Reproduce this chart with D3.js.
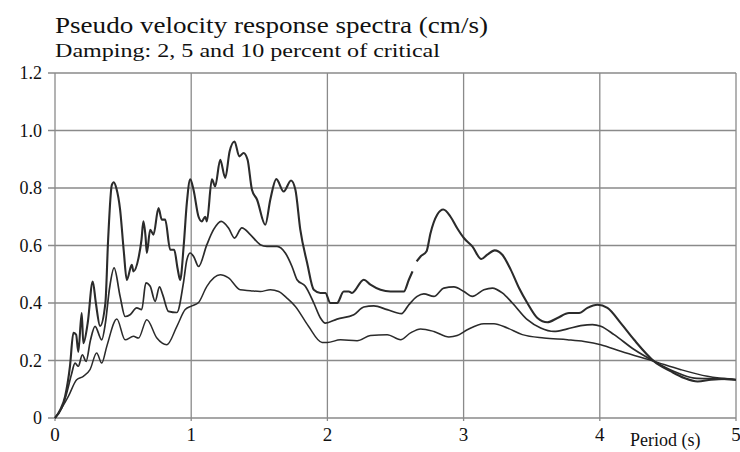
<!DOCTYPE html>
<html>
<head>
<meta charset="utf-8">
<script src="https://cdn.jsdelivr.net/npm/d3@7"></script>
<style>
  body { margin: 0; background: #fff; }
  svg { display: block; font-family: "Liberation Serif", "Times New Roman", serif; }
</style>
</head>
<body>
<svg id="chart"></svg>
<script>
// Chart data: [period (s), pseudo velocity (cm/s)] per damping ratio
var xTicks = [0, 1, 2, 3, 4, 5];
var yTicks = [0, 0.2, 0.4, 0.6, 0.8, 1.0, 1.2];
var yTickLabels = ['0', '0.2', '0.4', '0.6', '0.8', '1.0', '1.2'];

var damp2 = [[0,0],[0.04,0.03],[0.074,0.075],[0.11,0.18],[0.135,0.296],[0.155,0.29],[0.171,0.23],[0.196,0.365],
  [0.208,0.26],[0.24,0.33],[0.277,0.475],[0.30,0.40],[0.331,0.32],[0.37,0.40],[0.39,0.62],[0.417,0.81],[0.432,0.82],
  [0.45,0.80],[0.478,0.725],[0.505,0.58],[0.527,0.48],[0.564,0.533],[0.576,0.51],[0.613,0.556],[0.635,0.62],
  [0.649,0.684],[0.665,0.63],[0.674,0.574],[0.699,0.655],[0.723,0.638],[0.76,0.73],[0.784,0.69],[0.809,0.69],
  [0.846,0.585],[0.875,0.585],[0.90,0.52],[0.919,0.48],[0.945,0.60],[0.968,0.748],[0.993,0.83],[1.017,0.794],
  [1.054,0.70],[1.078,0.684],[1.103,0.70],[1.115,0.684],[1.152,0.83],[1.176,0.806],[1.213,0.898],[1.25,0.835],
  [1.282,0.927],[1.318,0.962],[1.353,0.91],[1.385,0.922],[1.414,0.898],[1.446,0.794],[1.483,0.76],[1.544,0.672],
  [1.581,0.76],[1.625,0.831],[1.679,0.788],[1.733,0.826],[1.765,0.794],[1.801,0.655],[1.851,0.54],[1.9,0.446],
  [1.949,0.435],[1.985,0.435],[2.022,0.40],[2.071,0.40],[2.12,0.44],[2.157,0.44],[2.18,0.435],[2.267,0.481],
  [2.316,0.464],[2.39,0.446],[2.463,0.44],[2.561,0.44],[2.598,0.481],[2.625,0.51],null,[2.655,0.545],[2.684,0.562],
  [2.728,0.58],[2.757,0.643],[2.806,0.707],[2.851,0.725],[2.904,0.70],[2.953,0.66],[3.002,0.626],[3.064,0.597],
  [3.13,0.553],[3.174,0.568],[3.228,0.583],[3.284,0.568],[3.346,0.516],[3.407,0.452],[3.468,0.40],[3.542,0.348],
  [3.615,0.333],[3.689,0.348],[3.774,0.365],[3.848,0.365],[3.909,0.383],[3.983,0.394],[4.056,0.383],[4.154,0.33],
  [4.252,0.272],[4.399,0.197],[4.522,0.162],[4.62,0.139],[4.718,0.127],[4.816,0.133],[4.914,0.136],[5,0.133]];

var damp5 = [[0,0],[0.05,0.035],[0.086,0.087],[0.12,0.15],[0.147,0.191],[0.171,0.18],[0.201,0.22],[0.228,0.197],
  [0.26,0.27],[0.294,0.319],[0.343,0.272],[0.37,0.33],[0.40,0.45],[0.434,0.522],[0.478,0.423],[0.515,0.353],
  [0.551,0.359],[0.6,0.383],[0.637,0.377],[0.667,0.47],[0.699,0.458],[0.735,0.406],[0.767,0.456],[0.79,0.43],
  [0.833,0.371],[0.895,0.367],[0.943,0.47],[0.968,0.55],[0.993,0.574],[1.02,0.56],[1.054,0.527],[1.115,0.603],
  [1.164,0.655],[1.22,0.684],[1.274,0.661],[1.318,0.626],[1.372,0.661],[1.434,0.638],[1.507,0.603],[1.556,0.597],
  [1.63,0.597],[1.691,0.574],[1.74,0.527],[1.777,0.481],[1.838,0.458],[1.9,0.40],[1.949,0.348],[1.985,0.33],
  [2.071,0.344],[2.194,0.359],[2.267,0.386],[2.341,0.39],[2.439,0.377],[2.544,0.363],[2.598,0.394],[2.659,0.423],
  [2.708,0.432],[2.782,0.423],[2.855,0.452],[2.929,0.456],[3.002,0.44],[3.064,0.423],[3.149,0.446],[3.211,0.452],
  [3.284,0.435],[3.358,0.40],[3.468,0.342],[3.566,0.313],[3.664,0.301],[3.762,0.31],[3.86,0.321],[3.946,0.325],
  [4.007,0.319],[4.105,0.29],[4.252,0.238],[4.399,0.197],[4.546,0.162],[4.693,0.139],[4.84,0.136],[5,0.133]];

var damp10 = [[0,0],[0.05,0.035],[0.098,0.075],[0.159,0.133],[0.208,0.145],[0.257,0.168],[0.306,0.226],
  [0.343,0.191],[0.38,0.249],[0.454,0.344],[0.515,0.272],[0.576,0.284],[0.613,0.278],[0.674,0.342],[0.748,0.278],
  [0.821,0.255],[0.895,0.319],[0.956,0.377],[1.005,0.39],[1.054,0.402],[1.115,0.458],[1.213,0.498],[1.274,0.487],
  [1.36,0.446],[1.434,0.443],[1.507,0.44],[1.581,0.446],[1.642,0.44],[1.703,0.417],[1.765,0.388],[1.86,0.32],
  [1.961,0.263],[2.0,0.263],[2.096,0.272],[2.218,0.269],[2.316,0.287],[2.439,0.29],[2.537,0.272],[2.61,0.296],
  [2.684,0.31],[2.782,0.301],[2.892,0.282],[2.953,0.287],[3.027,0.307],[3.149,0.328],[3.223,0.328],[3.321,0.313],
  [3.431,0.29],[3.59,0.278],[3.762,0.272],[3.885,0.266],[4.007,0.255],[4.154,0.232],[4.399,0.197],[4.596,0.168],
  [4.79,0.145],[5,0.133]];

var vWidth = 740, vHeight = 452;
var pLeft = 55, pRight = 736, pTop = 73, pBottom = 418;

var svg = d3.select('#chart')
  .attr('width', vWidth)
  .attr('height', vHeight);

var x = d3.scaleLinear().domain([0, 5]).range([pLeft, pRight]);
var y = d3.scaleLinear().domain([0, 1.2]).range([pBottom, pTop]);

//titles
svg.append('text')
  .attr('x', 55).attr('y', 33)
  .attr('font-size', 24)
  .attr('textLength', 433).attr('lengthAdjust', 'spacingAndGlyphs')
  .attr('fill', '#111')
  .text('Pseudo velocity response spectra (cm/s)');

svg.append('text')
  .attr('x', 55).attr('y', 57)
  .attr('font-size', 19)
  .attr('textLength', 385).attr('lengthAdjust', 'spacingAndGlyphs')
  .attr('fill', '#111')
  .text('Damping: 2, 5 and 10 percent of critical');

//grid
var grid = svg.append('g').attr('stroke', '#8a8a8a').attr('stroke-width', 1.3);
grid.selectAll('.hg').data(yTicks).enter().append('line')
  .attr('x1', pLeft - 7).attr('x2', pRight)
  .attr('y1', function (d) { return y(d); }).attr('y2', function (d) { return y(d); });
grid.selectAll('.vg').data(xTicks).enter().append('line')
  .attr('y1', pTop).attr('y2', pBottom + 3)
  .attr('x1', function (d) { return x(d); }).attr('x2', function (d) { return x(d); });

//tick labels
svg.selectAll('.yl').data(yTicks).enter().append('text')
  .attr('x', 42)
  .attr('y', function (d) { return y(d) + 6; })
  .attr('text-anchor', 'end')
  .attr('font-size', 18)
  .attr('fill', '#111')
  .text(function (d, i) { return yTickLabels[i]; });

svg.selectAll('.xl').data(xTicks).enter().append('text')
  .attr('x', function (d) { return x(d); })
  .attr('y', 441)
  .attr('text-anchor', 'middle')
  .attr('font-size', 19)
  .attr('fill', '#111')
  .text(function (d) { return d; });

svg.append('text')
  .attr('x', 630).attr('y', 446)
  .attr('font-size', 18)
  .attr('fill', '#111')
  .text('Period (s)');

//curves
var line = d3.line()
  .defined(function (d) { return d; })
  .x(function (d) { return x(d[0]); })
  .y(function (d) { return y(d[1]); })
  .curve(d3.curveMonotoneX);

var series = [
  { data: damp10, w: 1.5 },
  { data: damp5, w: 1.7 },
  { data: damp2, w: 2.1 }
];

svg.selectAll('.curve').data(series).enter().append('path')
  .attr('d', function (d) { return line(d.data); })
  .attr('fill', 'none')
  .attr('stroke', '#2b2b2b')
  .attr('stroke-width', function (d) { return d.w; })
  .attr('stroke-linejoin', 'round');
</script>
</body>
</html>
